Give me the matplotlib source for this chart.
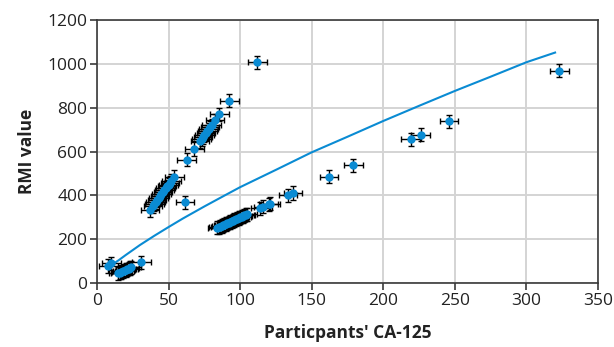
import matplotlib
matplotlib.use("Agg")
import matplotlib.pyplot as plt

# values
ca125 = [8, 10, 15, 16, 17, 18, 19, 20, 21, 22, 23, 24, 31,
         37, 39, 40, 41, 42, 43, 44, 45, 46, 47, 48, 49, 50, 51, 52, 54,
         61.5, 62.7, 68, 72, 73, 74, 75, 76, 77, 78, 79, 80, 82.5, 85.5, 92.4, 112,
         84, 85, 86, 87, 88, 89, 90, 91, 92, 93, 94, 95, 96, 97, 98, 99, 100,
         101, 102, 103, 104, 105, 114, 116, 120, 121, 133.5, 137,
         162, 179, 219, 226, 246, 323]
rmi = [78, 90, 45, 48, 51, 54, 57, 60, 63, 66, 69, 72, 95,
       333, 351, 360, 369, 378, 387, 396, 405, 414, 423, 432, 441, 450, 459, 468, 486,
       369, 564, 612, 648, 657, 666, 675, 684, 693, 702, 711, 720, 743, 770, 832, 1008,
       252, 255, 258, 261, 264, 267, 270, 273, 276, 279, 282, 285, 288, 291, 294, 297, 300,
       303, 306, 309, 312, 315, 342, 348, 360, 363, 400, 411,
       486, 537, 657, 678, 738, 969]
x_err = 6.5
y_err = 30

# fitted curve, read at a few points
fit_x = [10, 15, 20, 30, 40, 50, 60, 75, 90, 100, 125, 150, 175, 200, 225, 250, 275, 300, 320]
fit_y = [82, 104, 128, 174, 216, 256, 295, 350, 403, 438, 517, 597, 668, 740, 809, 877, 942, 1008, 1052]

x_ticks = [0, 50, 100, 150, 200, 250, 300, 350]
y_ticks = [0, 200, 400, 600, 800, 1000, 1200]

blue = "#0a8bd3"
dark = "#3a3a3a"

plt.rcParams["font.family"] = ["Open Sans", "DejaVu Sans"]

fig = plt.figure(figsize=(6.14, 3.47), dpi=100)
ax = fig.add_axes([0.158, 0.184, 0.816, 0.758])

ax.errorbar(ca125, rmi, xerr=x_err, yerr=y_err, fmt="none", ecolor="black",
            elinewidth=1.0, capsize=2.2, capthick=1.0, zorder=3)
ax.plot(ca125, rmi, "o", color=blue, markersize=6, markeredgewidth=0, zorder=4)
ax.plot(fit_x, fit_y, color=blue, linewidth=1.5, zorder=5)

ax.set_xlim(0, 350)
ax.set_ylim(0, 1200)
ax.set_xticks(x_ticks)
ax.set_yticks(y_ticks)
ax.grid(True, color="#d4d4d4", linewidth=1.4, zorder=0)
ax.set_axisbelow(True)

for s in ax.spines.values():
    s.set_color(dark)
    s.set_linewidth(1.2)
ax.tick_params(direction="out", length=5, width=1.2, color=dark,
               labelsize=12.5, labelcolor="#222222", pad=2)

ax.set_xlabel("Particpants' CA-125", fontsize=12.5, fontweight="bold",
              color="#222222", labelpad=11)
ax.set_ylabel("RMI value", fontsize=12.5, fontweight="bold",
              color="#222222", labelpad=8)

fig.savefig("out.png", dpi=100)
